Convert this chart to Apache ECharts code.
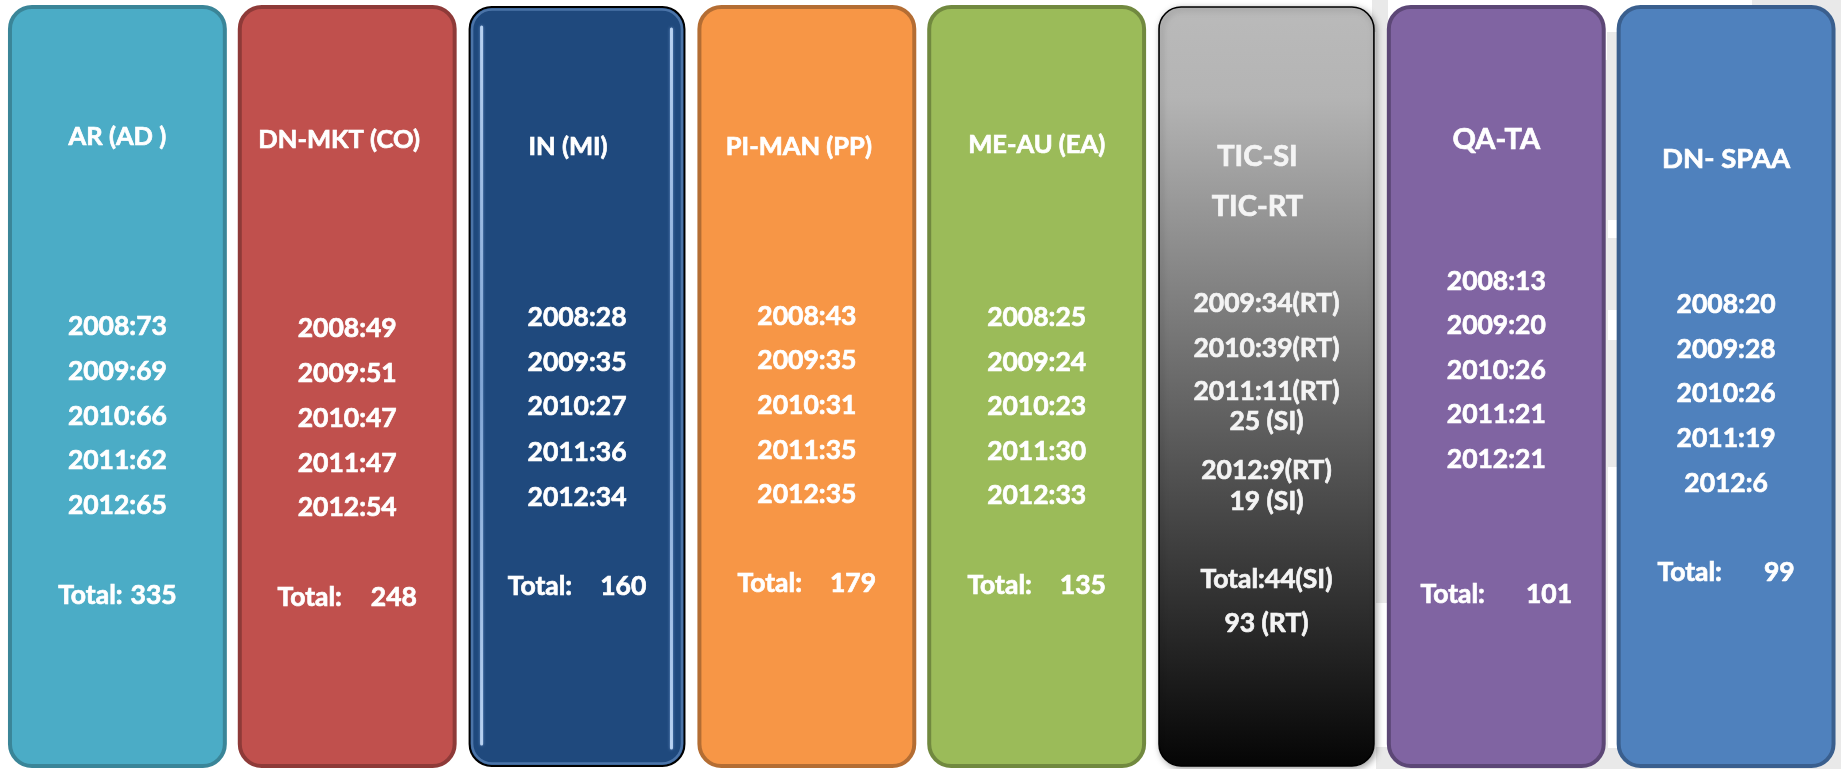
<!DOCTYPE html>
<html><head><meta charset="utf-8">
<script src="https://cdn.jsdelivr.net/npm/echarts@6/dist/echarts.min.js"></script>
<style>html,body{margin:0;padding:0;background:#fff}#c{width:1841px;height:769px}</style>
</head><body><div id="c"></div>
<script>
// ---------- data ----------
const categories = ['AR (AD )', 'DN-MKT (CO)', 'IN (MI)', 'PI-MAN (PP)', 'ME-AU (EA)', 'TIC-SI\nTIC-RT', 'QA-TA', 'DN- SPAA'];
const years = ['2008', '2009', '2010', '2011', '2012'];
const arAD   = [73, 69, 66, 62, 65];
const dnMKT  = [49, 51, 47, 47, 54];
const inMI   = [28, 35, 27, 36, 34];
const piMAN  = [43, 35, 31, 35, 35];
const meAU   = [25, 24, 23, 30, 33];
const ticRT  = [null, 34, 39, 11, 9];
const ticSI  = [null, null, null, 25, 19];
const qaTA   = [13, 20, 26, 21, 21];
const dnSPAA = [20, 28, 26, 19, 6];
const totals = [335, 248, 160, 179, 135, null, 101, 99];
const ticTotalSI = 44;
const ticTotalRT = 93;

// ---------- layout / style (not data) ----------
const panelSeries = [arAD, dnMKT, inMI, piMAN, meAU, null, qaTA, dnSPAA];
const fills   = ['#4BACC6', '#C0504D', '#1F497D', '#F79646', '#9BBB59', 'grad', '#8064A2', '#4F81BD'];
const strokes = ['#3A8598', '#8E3A38', '#000000', '#B46D33', '#71893F', '#000000', '#5C4776', '#3A5F8E'];
const layout = [
  {title: [137], tx: 0,  tsize: 25.5, rows: [326, 371, 416, 460, 505], total: [595], gap: 8},
  {title: [140], tx: -8, tsize: 25.5, rows: [328, 373, 418, 463, 507], total: [597], gap: 29},
  {title: [147], tx: -9, tsize: 25.5, rows: [317, 362, 406, 452, 497], total: [586], gap: 28},
  {title: [147], tx: -8, tsize: 25.5, rows: [316, 360, 405, 450, 494], total: [583], gap: 28},
  {title: [145], tx: 0,  tsize: 25.5, rows: [317, 362, 406, 451, 495], total: [585], gap: 28},
  {title: [157, 207], tx: -9, tsize: 29, rows: [303, 348, 391, 421, 470, 501], total: [579, 623]},
  {title: [140], tx: 0,  tsize: 29, rows: [281, 325, 370, 414, 459], total: [594], gap: 41},
  {title: [159], tx: 0,  tsize: 27.5, rows: [304, 349, 393, 438, 483], total: [572], gap: 42}
];
const FONT = 'Lato, "Open Sans", sans-serif';
const GRID_TOP = 5;
const ROW_SIZE = 26.5;

const measureCtx = document.createElement('canvas').getContext('2d');
function textWidth(t, size) {
  measureCtx.font = 'bold ' + size + 'px ' + FONT;
  return measureCtx.measureText(t).width;
}

function panelLines(i) {
  if (i === 5) {
    const out = [];
    years.forEach((y, k) => {
      if (ticRT[k] != null) out.push(y + ':' + ticRT[k] + '(RT)');
      if (ticSI[k] != null) out.push(ticSI[k] + ' (SI)');
    });
    return out;
  }
  return years.map((y, k) => y + ':' + panelSeries[i][k]);
}

function txt(x, y, text, size, fill, align) {
  const a = align || 'center';
  return {
    type: 'text', x: x, y: y, z2: 10,
    style: {
      text: text, fill: fill || '#FFFFFF', stroke: fill || '#FFFFFF', lineWidth: 0.7,
      fontSize: size, fontWeight: 'bold', fontFamily: FONT,
      align: a, verticalAlign: 'middle',
      textAlign: a, textVerticalAlign: 'middle'
    }
  };
}

function renderItem(params, api) {
  const i = api.value(0);
  const top = api.coord([i, 1]);
  const bot = api.coord([i, 0]);
  const bw = api.size([1, 0])[0];
  const cx = top[0];
  const L = layout[i];
  const dy = top[1] - GRID_TOP;
  const children = [];
  const w = bw * 0.935;
  const x0 = cx - w / 2;
  const y0 = top[1] + 2;
  const h = bot[1] - top[1] - 4;
  let fill = fills[i];
  if (fill === 'grad') {
    fill = new echarts.graphic.LinearGradient(0, 0, 0, 1, [
      {offset: 0, color: '#BABABA'}, {offset: 0.12, color: '#B4B4B4'}, {offset: 1, color: '#050505'}
    ]);
  }
  const rectStyle = {fill: fill, stroke: strokes[i], lineWidth: 4};
  if (i === 2) { rectStyle.lineWidth = 2; }
  if (i === 5) {
    rectStyle.lineWidth = 1.6;
    rectStyle.shadowBlur = 6; rectStyle.shadowColor = 'rgba(0,0,0,0.35)';
    rectStyle.shadowOffsetX = 2; rectStyle.shadowOffsetY = 2;
  }
  children.push({type: 'rect', shape: {x: x0, y: y0, width: w, height: h, r: 22}, style: rectStyle});
  if (i === 2) {
    children.push({type: 'rect', shape: {x: x0 + 2.5, y: y0 + 2.5, width: w - 5, height: h - 5, r: 20},
      style: {fill: 'none', stroke: '#4B74A8', lineWidth: 2.5}});
    const hl = new echarts.graphic.LinearGradient(0, 0, 0, 1, [
      {offset: 0, color: 'rgba(190,215,245,0.95)'}, {offset: 0.5, color: 'rgba(150,185,230,0.75)'}, {offset: 1, color: 'rgba(190,215,245,0.95)'}
    ]);
    children.push({type: 'line', shape: {x1: x0 + 12, y1: y0 + 20, x2: x0 + 12, y2: y0 + h - 22},
      style: {stroke: hl, lineWidth: 3, lineCap: 'round', shadowBlur: 3, shadowColor: 'rgba(120,160,215,0.8)'}});
    children.push({type: 'line', shape: {x1: x0 + w - 13, y1: y0 + 22, x2: x0 + w - 13, y2: y0 + h - 18},
      style: {stroke: hl, lineWidth: 3, lineCap: 'round', shadowBlur: 3, shadowColor: 'rgba(120,160,215,0.8)'}});
  }
  const txtFill = i === 5 ? '#F4F4F4' : '#FFFFFF';
  const titles = categories[i].split('\n');
  titles.forEach((t, k) => children.push(txt(cx + L.tx, L.title[k] + dy, t, L.tsize, txtFill)));
  const lines = panelLines(i);
  lines.forEach((t, k) => children.push(txt(cx, L.rows[k] + dy, t, ROW_SIZE, txtFill)));
  if (i === 5) {
    children.push(txt(cx, L.total[0] + dy, 'Total:' + ticTotalSI + '(SI)', ROW_SIZE, txtFill));
    children.push(txt(cx, L.total[1] + dy, ticTotalRT + ' (RT)', ROW_SIZE, txtFill));
  } else {
    const lab = 'Total:';
    const num = String(totals[i]);
    const wa = textWidth(lab, ROW_SIZE);
    const wb = textWidth(num, ROW_SIZE);
    const left = cx - (wa + L.gap + wb) / 2;
    children.push(txt(left, L.total[0] + dy, lab, ROW_SIZE, txtFill, 'left'));
    children.push(txt(left + wa + L.gap, L.total[0] + dy, num, ROW_SIZE, txtFill, 'left'));
  }
  return {type: 'group', children: children};
}

// decorative background (light grey slide backdrop on the right)
const bgGrey = '#E9E9E9';
const bg = [
  {x: 1376, y: 32, w: 12, h: 571}, {x: 1376, y: 747, w: 12, h: 22},
  {x: 1388, y: 60, w: 220, h: 709},
  {x: 1607, y: 32, w: 11, h: 188}, {x: 1607, y: 238, w: 11, h: 72}, {x: 1607, y: 340, w: 11, h: 127}, {x: 1607, y: 748, w: 11, h: 21},
  {x: 1618, y: 60, w: 223, h: 709},
  {x: 1752, y: 0, w: 89, h: 60}, {x: 1372, y: 0, w: 16, h: 32}
].map(r => ({type: 'rect', z: -10, shape: {x: r.x, y: r.y, width: r.w, height: r.h}, style: {fill: bgGrey}, silent: true}));

const chart = echarts.init(document.getElementById('c'), null, {renderer: 'canvas'});
chart.setOption({
  backgroundColor: '#FFFFFF',
  animation: false,
  graphic: {elements: bg},
  grid: {left: 2.5, top: GRID_TOP, width: 1840, height: 763},
  xAxis: {type: 'category', data: categories, show: false},
  yAxis: {type: 'value', min: 0, max: 1, show: false},
  series: [{
    type: 'custom',
    renderItem: renderItem,
    data: categories.map((c, i) => [i, 1]),
    z: 5
  }]
});
</script>
</body></html>
